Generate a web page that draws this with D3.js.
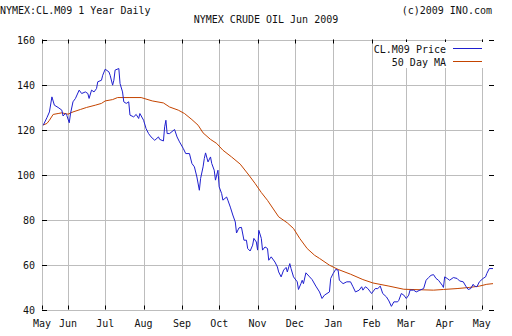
<html>
<head>
<title>NYMEX Crude Oil</title>
<script src="https://cdn.jsdelivr.net/npm/d3@7/dist/d3.min.js"></script>
</head>
<body style='margin: 0;padding: 0;background: #ffffff'>
<div id="chart"></div>
<script>

// month labels along the bottom (first one sits on the left edge)
var monthDates = ['2008-05-11','2008-06-01','2008-07-01','2008-08-01','2008-09-01','2008-10-01','2008-11-01',
                  '2008-12-01','2009-01-01','2009-02-01','2009-03-01','2009-04-01','2009-05-01']
var monthNames = ['May','Jun','Jul','Aug','Sep','Oct','Nov','Dec','Jan','Feb','Mar','Apr','May']
var yTicks = [40, 60, 80, 100, 120, 140, 160]

// CL.M09 price
var priceDates = ['2008-05-12','2008-05-15','2008-05-17','2008-05-19','2008-05-21','2008-05-24','2008-05-27','2008-05-28','2008-05-30','2008-05-31',
  '2008-06-02','2008-06-03','2008-06-05','2008-06-07','2008-06-10','2008-06-12','2008-06-15','2008-06-17','2008-06-18','2008-06-20',
  '2008-06-22','2008-06-24','2008-06-25','2008-06-28','2008-06-29','2008-07-01','2008-07-04','2008-07-05','2008-07-07','2008-07-08',
  '2008-07-09','2008-07-12','2008-07-13','2008-07-15','2008-07-16','2008-07-18','2008-07-20','2008-07-21','2008-07-24','2008-07-26',
  '2008-07-28','2008-07-29','2008-08-01','2008-08-03','2008-08-05','2008-08-07','2008-08-10','2008-08-13','2008-08-14','2008-08-17',
  '2008-08-18','2008-08-19','2008-08-20','2008-08-22','2008-08-26','2008-08-28','2008-08-30','2008-09-02','2008-09-04','2008-09-07',
  '2008-09-09','2008-09-11','2008-09-13','2008-09-15','2008-09-16','2008-09-18','2008-09-19','2008-09-20','2008-09-22','2008-09-24',
  '2008-09-25','2008-09-27','2008-09-28','2008-09-30','2008-10-01','2008-10-03','2008-10-04','2008-10-07','2008-10-08','2008-10-10',
  '2008-10-12','2008-10-14','2008-10-15','2008-10-17','2008-10-19','2008-10-21','2008-10-23','2008-10-24','2008-10-26','2008-10-28',
  '2008-10-29','2008-10-31','2008-11-01','2008-11-02','2008-11-04','2008-11-05','2008-11-07','2008-11-09','2008-11-10','2008-11-12',
  '2008-11-15','2008-11-17','2008-11-18','2008-11-20','2008-11-22','2008-11-24','2008-11-25','2008-11-27','2008-11-28','2008-11-30',
  '2008-12-03','2008-12-04','2008-12-06','2008-12-07','2008-12-08','2008-12-10','2008-12-13','2008-12-15','2008-12-18','2008-12-21',
  '2008-12-23','2008-12-25','2008-12-29','2008-12-30','2009-01-01','2009-01-03','2009-01-05','2009-01-06','2009-01-09','2009-01-12',
  '2009-01-15','2009-01-17','2009-01-19','2009-01-22','2009-01-24','2009-01-25','2009-01-27','2009-01-29','2009-02-01','2009-02-04',
  '2009-02-06','2009-02-08','2009-02-10','2009-02-13','2009-02-15','2009-02-17','2009-02-19','2009-02-22','2009-02-23','2009-02-25',
  '2009-02-27','2009-03-01','2009-03-03','2009-03-04','2009-03-07','2009-03-09','2009-03-12','2009-03-15','2009-03-17','2009-03-19',
  '2009-03-21','2009-03-23','2009-03-25','2009-03-27','2009-03-30','2009-03-31','2009-04-01','2009-04-03','2009-04-05','2009-04-08',
  '2009-04-11','2009-04-13','2009-04-16','2009-04-18','2009-04-20','2009-04-22','2009-04-24','2009-04-25','2009-04-27','2009-04-29',
  '2009-05-02','2009-05-04','2009-05-05','2009-05-07','2009-05-10']
var priceValues = [121.9,125.3,127.8,134.5,130.8,129.8,128.6,126,127.2,126.3,
  123,127,132.3,133.8,137.5,136,136.7,136,133.8,137.5,
  136.7,138.2,141.2,141.9,144.1,146.8,145.6,144.1,139.7,141.9,
  146.4,147.1,140.4,136.7,132.3,131.6,132.3,126.4,125.6,126.7,
  124.9,127.1,124.1,120.4,118.2,116.7,115.2,116.7,115.6,114.9,
  121.2,124.1,118.2,118.2,120,116.7,114.5,111.6,109.3,109.3,
  104.9,103.4,98.9,93,98.2,103.4,107.1,109.6,105.6,107.8,
  104.9,101.9,97.5,101.9,94.5,91.5,88.6,90,88.6,85.5,
  82,78.9,74,76.3,76.5,70.8,70.8,67.1,66,68.6,
  71.6,70,66.4,75.2,71.6,66.4,67.8,67.1,61.9,63.4,
  61.1,58.9,56.7,54.5,57.5,58.7,56.7,60.4,58.2,54.5,
  52.3,48.9,51.5,53,51.5,56.3,54.5,53.3,50.4,47.8,
  44.9,46.4,47.8,53.8,56,57.8,57.5,53,51.5,52.3,
  52.3,50.1,47.8,48.6,50.1,48.6,50.1,49.3,47.1,49.3,
  49.3,50.4,47.1,45.6,43.8,41.4,43.4,43.4,44.1,47.1,
  46.4,44.9,46.4,48.6,48.6,47.8,48.6,49.3,53,54.2,
  55.2,55.5,53.8,53,50.8,49.8,54.5,53.8,53,54.2,
  53.8,52.7,52.3,50.4,48.9,49.3,51.2,50.4,50.1,52.3,
  53.8,54.5,56,58.2,58.2]

// 50 day moving average
var maDates = ['2008-05-12','2008-05-15','2008-05-17','2008-05-20','2008-05-24','2008-05-27','2008-06-01','2008-06-05','2008-06-11','2008-06-16',
  '2008-06-23','2008-06-28','2008-07-01','2008-07-07','2008-07-11','2008-07-21','2008-07-30','2008-08-08','2008-08-17','2008-08-22',
  '2008-08-29','2008-09-03','2008-09-09','2008-09-14','2008-09-18','2008-09-24','2008-09-29','2008-10-04','2008-10-11','2008-10-18',
  '2008-10-25','2008-10-30','2008-11-04','2008-11-09','2008-11-18','2008-11-25','2008-11-30','2008-12-05','2008-12-11','2008-12-17',
  '2008-12-21','2008-12-29','2009-01-05','2009-01-15','2009-01-25','2009-02-02','2009-02-15','2009-02-27','2009-03-23','2009-03-31',
  '2009-04-11','2009-04-21','2009-04-29','2009-05-05','2009-05-10']
var maValues = [122,122.7,124.1,126.7,127.1,127.4,126.8,127.8,128.9,129.8,
  130.8,131.6,132.7,133.3,134.2,134.2,134.2,132.7,131.8,130,
  128.6,127.1,124.4,121.9,118.5,115.6,113.8,110.8,107.8,104.6,
  99.7,96,92,88.5,81.2,78.5,76,71.6,67.1,64.1,
  62.7,59.7,57.8,55.7,53.3,51.8,50.4,49,48.6,48.9,
  49.3,49.8,50.4,51.2,51.5]

var parse = d3.timeParse('%Y-%m-%d')
var price = priceDates.map((d,i) => ({date: parse(d), value: priceValues[i]}))
var ma = maDates.map((d,i) => ({date: parse(d), value: maValues[i]}))
var months = monthDates.map((d,i) => ({date: parse(d), name: monthNames[i]}))

var grid_colour = '#bdbdbd'
var price_colour = '#1f1fcf'
var ma_colour = '#c44400'
var font = 'DejaVu Sans Mono'

var svg = d3.select('#chart').append('svg').attr('width', 512).attr('height', 336)
  .style('background-color', '#ffffff').style('display', 'block')

var x = d3.scaleTime().domain([parse('2008-05-11'), parse('2009-05-10')]).range([42, 493])
var y = d3.scaleLinear().domain([40, 160]).range([309.5, 39.5])
var gridRight = x(months[months.length-1].date)

// horizontal grid
svg.selectAll('.hgrid').data(yTicks).enter().append('line')
  .attr('class', 'hgrid')
  .attr('x1', x.range()[0]).attr('x2', gridRight)
  .attr('y1', d => Math.round(y(d)) + 0.5).attr('y2', d => Math.round(y(d)) + 0.5)
  .style('stroke', grid_colour).style('stroke-width', '1px')

// vertical grid
svg.selectAll('.vgrid').data(months).enter().append('line')
  .attr('class', 'vgrid')
  .attr('x1', d => Math.round(x(d.date)) + 0.5).attr('x2', d => Math.round(x(d.date)) + 0.5)
  .attr('y1', y(160)).attr('y2', y(40))
  .style('stroke', grid_colour).style('stroke-width', '1px')

// black tick marks: left, right, top, bottom
svg.selectAll('.ltick').data(yTicks).enter().append('line')
  .attr('x1', x.range()[0]).attr('x2', x.range()[0] + 5)
  .attr('y1', d => Math.round(y(d)) + 0.5).attr('y2', d => Math.round(y(d)) + 0.5)
  .style('stroke', '#000').style('stroke-width', '1px')

svg.selectAll('.rtick').data(yTicks).enter().append('line')
  .attr('x1', x.range()[1] - 4).attr('x2', x.range()[1] + 1)
  .attr('y1', d => Math.round(y(d)) + 0.5).attr('y2', d => Math.round(y(d)) + 0.5)
  .style('stroke', '#000').style('stroke-width', '1px')

svg.selectAll('.ttick').data(months).enter().append('line')
  .attr('x1', d => Math.round(x(d.date)) + 0.5).attr('x2', d => Math.round(x(d.date)) + 0.5)
  .attr('y1', y(160)).attr('y2', y(160) + 4)
  .style('stroke', '#000').style('stroke-width', '1px')

svg.selectAll('.btick').data(months).enter().append('line')
  .attr('x1', d => Math.round(x(d.date)) + 0.5).attr('x2', d => Math.round(x(d.date)) + 0.5)
  .attr('y1', y(40) - 4).attr('y2', y(40))
  .style('stroke', '#000').style('stroke-width', '1px')

// axis labels
svg.selectAll('.ylab').data(yTicks).enter().append('text')
  .text(d => d)
  .attr('x', 35).attr('y', d => y(d) + 4)
  .attr('text-anchor', 'end')
  .attr('font-family', font).attr('font-size', 10).style('fill', '#111')

svg.selectAll('.xlab').data(months).enter().append('text')
  .text(d => d.name)
  .attr('x', d => x(d.date)).attr('y', 327)
  .attr('text-anchor', 'middle')
  .attr('font-family', font).attr('font-size', 10).style('fill', '#111')

// series
var line = d3.line().x(d => x(d.date)).y(d => y(d.value))

svg.append('path').datum(ma).attr('d', line)
  .style('fill', 'none').style('stroke', ma_colour).style('stroke-width', '1px')

svg.append('path').datum(price).attr('d', line)
  .style('fill', 'none').style('stroke', price_colour).style('stroke-width', '1px')

// legend
svg.append('rect').attr('x', 373).attr('y', 42).attr('width', 111).attr('height', 26).style('fill', '#ffffff')

var legend = [{name: 'CL.M09 Price', colour: price_colour}, {name: '50 Day MA', colour: ma_colour}]
svg.selectAll('.legtext').data(legend).enter().append('text')
  .text(d => d.name)
  .attr('x', 446).attr('y', (d,i) => 53 + i*13)
  .attr('text-anchor', 'end')
  .attr('font-family', font).attr('font-size', 10).style('fill', '#111')

svg.selectAll('.legline').data(legend).enter().append('line')
  .attr('x1', 453).attr('x2', 482)
  .attr('y1', (d,i) => 48.5 + i*13).attr('y2', (d,i) => 48.5 + i*13)
  .style('stroke', d => d.colour).style('stroke-width', '1px')

// titles
svg.append('text').text('NYMEX:CL.M09 1 Year Daily')
  .attr('x', 0).attr('y', 14)
  .attr('font-family', font).attr('font-size', 10).style('fill', '#111')

svg.append('text').text('(c)2009 INO.com')
  .attr('x', 492).attr('y', 14).attr('text-anchor', 'end')
  .attr('font-family', font).attr('font-size', 10).style('fill', '#111')

svg.append('text').text('NYMEX CRUDE OIL Jun 2009')
  .attr('x', 266).attr('y', 23).attr('text-anchor', 'middle')
  .attr('font-family', font).attr('font-size', 10).style('fill', '#111')

</script>
</body>
</html>
